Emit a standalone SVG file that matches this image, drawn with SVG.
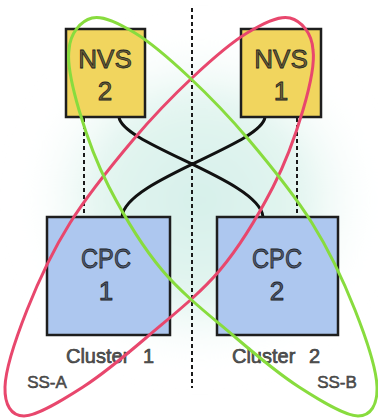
<svg xmlns="http://www.w3.org/2000/svg" width="378" height="419" viewBox="0 0 378 419">
  <defs>
    <radialGradient id="wash" cx="0.5" cy="0.5" r="0.5">
      <stop offset="0" stop-color="#d6f0ea"/>
      <stop offset="0.55" stop-color="#e3f5f0"/>
      <stop offset="1" stop-color="#ffffff" stop-opacity="0"/>
    </radialGradient>
    <filter id="soft" x="-20%" y="-20%" width="140%" height="140%">
      <feGaussianBlur stdDeviation="12"/>
    </filter>
    <!-- hand-drawn loop, reused mirrored for the second group -->
    <path id="loop" d="M290,18 C301,20.8 312,33 313,50 C315.2,65.3 309.7,87.2 303,110 C296.3,132.8 286.8,160.3 273,187 C259.2,213.7 241,245 220,270 C199,295 169.8,317.5 147,337 C124.2,356.5 103.5,373.8 83,387 C62.5,400.2 37,416 24,416 C11,416 4.5,404.7 5,387 C5.5,369.3 16.2,337.3 27,310 C37.8,282.7 52.3,251.3 70,223 C87.7,194.7 112.5,164.3 133,140 C153.5,115.7 174,94.8 193,77 C212,59.2 230.8,42.8 247,33 C263.2,23.2 279,15.2 290,18 Z"/>
    <style>
      .nvs { fill: #f1d55e; stroke: #1e1e1e; stroke-width: 2.5; }
      .cpc { fill: #adc7ef; stroke: #1e1e1e; stroke-width: 2.5; }
      .label { font-family: "Liberation Sans", "DejaVu Sans", sans-serif; text-anchor: middle; stroke: #222; stroke-width: 0.8; }
      .on-nvs { fill: #6e6236; }
      .on-cpc { fill: #4d5a74; }
      .big { font-size: 26px; }
      .caption { font-size: 20px; fill: #575757; stroke: #333; stroke-width: 0.6; }
      .tag { font-size: 17px; fill: #555; stroke: #333; stroke-width: 0.5; }
      .dash { fill: none; stroke: #1a1a1a; stroke-width: 2; stroke-dasharray: 4 3; }
      .link { fill: none; stroke: #111; stroke-width: 3; stroke-linecap: round; }
      .ss { fill: none; stroke-width: 3; }
    </style>
  </defs>

  <!-- background -->
  <rect width="378" height="419" fill="#ffffff"/>
  <ellipse cx="200" cy="200" rx="185" ry="175" fill="url(#wash)" filter="url(#soft)"/>

  <!-- connectors -->
  <g id="connectors">
    <line class="dash" x1="192" y1="8" x2="192" y2="388"/>
    <line class="dash" x1="84" y1="118" x2="84" y2="216"/>
    <line class="dash" x1="297" y1="118" x2="297" y2="216"/>
    <path class="link" d="M119,117 C122,145 260,180 263,217"/>
    <path class="link" d="M265,117 C262,145 124,180 122,217"/>
  </g>

  <!-- nodes -->
  <g id="nvs2">
    <rect class="nvs" x="66" y="29" width="79" height="88"/>
    <text class="label big on-nvs" x="105" y="68">NVS</text>
    <text class="label big on-nvs" x="105" y="100">2</text>
  </g>
  <g id="nvs1">
    <rect class="nvs" x="241" y="29" width="80" height="88"/>
    <text class="label big on-nvs" x="281" y="68">NVS</text>
    <text class="label big on-nvs" x="281" y="100">1</text>
  </g>
  <g id="cpc1">
    <rect class="cpc" x="47" y="217" width="123" height="118"/>
    <text class="label big on-cpc" x="106" y="268" textLength="50" lengthAdjust="spacingAndGlyphs" style="font-size:28px">CPC</text>
    <text class="label big on-cpc" x="106" y="300">1</text>
  </g>
  <g id="cpc2">
    <rect class="cpc" x="217" y="217" width="121" height="118"/>
    <text class="label big on-cpc" x="277" y="268" textLength="50" lengthAdjust="spacingAndGlyphs" style="font-size:28px">CPC</text>
    <text class="label big on-cpc" x="277" y="300">2</text>
  </g>

  <!-- cluster captions -->
  <g id="cluster1">
    <text class="label caption" x="110" y="363" word-spacing="8">Cluster 1</text>
  </g>
  <g id="cluster2">
    <text class="label caption" x="276" y="363" word-spacing="8">Cluster 2</text>
  </g>

  <!-- SS-A / SS-B loops -->
  <g id="ss-a">
    <use href="#loop" class="ss" stroke="#e8476d"/>
    <text class="label tag" x="47" y="388">SS-A</text>
  </g>
  <g id="ss-b">
    <use href="#loop" class="ss" stroke="#88dc3e" transform="matrix(-1,0,0,1,382,0)"/>
    <text class="label tag" x="337" y="388">SS-B</text>
  </g>
</svg>
